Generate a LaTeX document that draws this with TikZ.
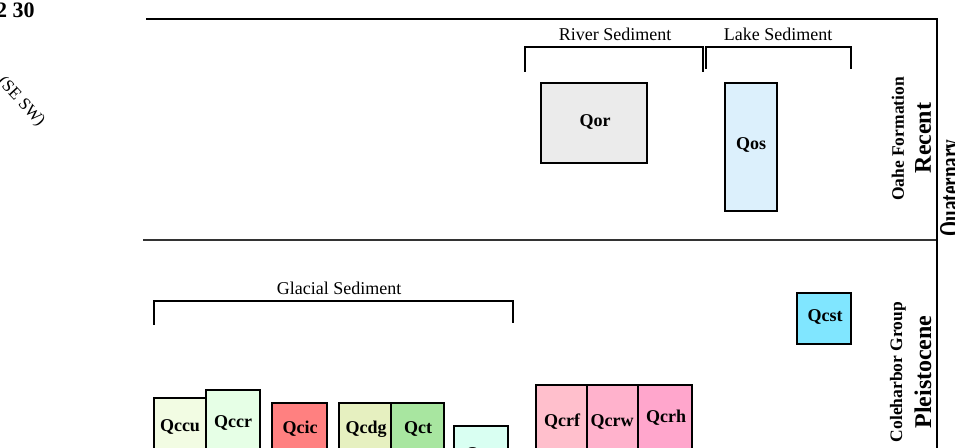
\documentclass[tikz,border=0pt]{standalone}
\usepackage{fontspec}
\setmainfont{Liberation Serif}
\begin{document}
\begin{tikzpicture}[x=1pt,y=-1pt,
  frame/.style={line width=2pt, black},
  brk/.style={line width=2pt, black, line cap=rect},
  unit/.style={draw=black, line width=2pt, anchor=north west, inner sep=0pt, outer sep=0pt},
  ulabel/.style={font=\fontsize{18}{18}\selectfont\bfseries, inner sep=0pt},
  grp/.style={font=\fontsize{18}{18}\selectfont, inner sep=0pt},
  vsmall/.style={font=\fontsize{17.5}{17.5}\selectfont\bfseries, rotate=90, inner sep=0pt},
  vbig/.style={font=\fontsize{24}{24}\selectfont\bfseries, rotate=90, inner sep=0pt}]
\useasboundingbox (0,0) rectangle (955,447);
% frame
\draw[frame] (146,19) -- (937,19);
\draw[frame, black!80] (143,239.5) -- (937,239.5);
\draw[frame] (937,18) -- (937,450);
% corner texts
\node[font=\fontsize{22}{22}\selectfont\bfseries, anchor=base west, inner sep=0pt] (fig) at (-4,17) {2 30};
\node[font=\fontsize{17}{17}\selectfont, rotate=-47, inner sep=0pt] (dir) at (21,102) {(SE SW)};
\node[font=\fontsize{31}{31}\selectfont\bfseries, rotate=90, xscale=0.62, anchor=north, inner sep=0pt] (quat) at (940,188) {Quaternary};
% vertical labels
\node[vsmall] (oahe) at (898,139) {Oahe Formation};
\node[vbig] (recent) at (923,138) {Recent};
\node[vsmall] (coleh) at (898,372) {Coleharbor Group};
\node[vbig] (pleist) at (923,372) {Pleistocene};
% brackets
\draw[brk] (525,71) -- (525,47) -- (703,47) -- (703,71);
\draw[brk] (706,68) -- (706,47) -- (851,47) -- (851,68);
\node[grp] (river) at (615,34) {River Sediment};
\node[grp] (lake) at (778,34) {Lake Sediment};
\draw[brk] (154,324) -- (154,301) -- (513,301) -- (513,322);
\node[grp] (glacial) at (339,288) {Glacial Sediment};
% units, recent
\node[unit, fill={rgb,255:red,235;green,235;blue,235}, minimum width=106pt, minimum height=80pt] (qor) at (541,83) {};
\node[ulabel] at (595,122) {Qor};
\node[unit, fill={rgb,255:red,220;green,240;blue,252}, minimum width=52pt, minimum height=128pt] (qos) at (725,83) {};
\node[ulabel] at (751,145) {Qos};
% units, pleistocene
\node[unit, fill={rgb,255:red,128;green,230;blue,255}, minimum width=54pt, minimum height=51pt] (qcst) at (797,293) {};
\node[ulabel] at (825,317) {Qcst};
\node[unit, fill={rgb,255:red,242;green,252;blue,227}, minimum width=52pt, minimum height=80pt] (qccu) at (154,398) {};
\node[ulabel] at (180,427) {Qccu};
\node[unit, fill={rgb,255:red,230;green,255;blue,230}, minimum width=54pt, minimum height=90pt] (qccr) at (206,390) {};
\node[ulabel] at (233,423) {Qccr};
\node[unit, fill={rgb,255:red,255;green,128;blue,128}, minimum width=55pt, minimum height=80pt] (qcic) at (272,403) {};
\node[ulabel] at (300,429) {Qcic};
\node[unit, fill={rgb,255:red,230;green,240;blue,192}, minimum width=52pt, minimum height=80pt] (qcdg) at (339,403) {};
\node[ulabel] at (366,429) {Qcdg};
\node[unit, fill={rgb,255:red,168;green,230;blue,160}, minimum width=53pt, minimum height=80pt] (qct) at (391,403) {};
\node[ulabel] at (418,429) {Qct};
\node[unit, fill={rgb,255:red,217;green,255;blue,242}, minimum width=54pt, minimum height=60pt] (qco) at (454,426) {};
\node[ulabel] at (481,455) {Qco};
\node[unit, fill={rgb,255:red,255;green,191;blue,204}, minimum width=51pt, minimum height=90pt] (qcrf) at (536,385) {};
\node[ulabel] at (562,422) {Qcrf};
\node[unit, fill={rgb,255:red,255;green,178;blue,204}, minimum width=51pt, minimum height=90pt] (qcrw) at (587,385) {};
\node[ulabel] at (612,422) {Qcrw};
\node[unit, fill={rgb,255:red,255;green,166;blue,204}, minimum width=54pt, minimum height=90pt] (qcrh) at (638,385) {};
\node[ulabel] at (666,418) {Qcrh};
\end{tikzpicture}
\end{document}
